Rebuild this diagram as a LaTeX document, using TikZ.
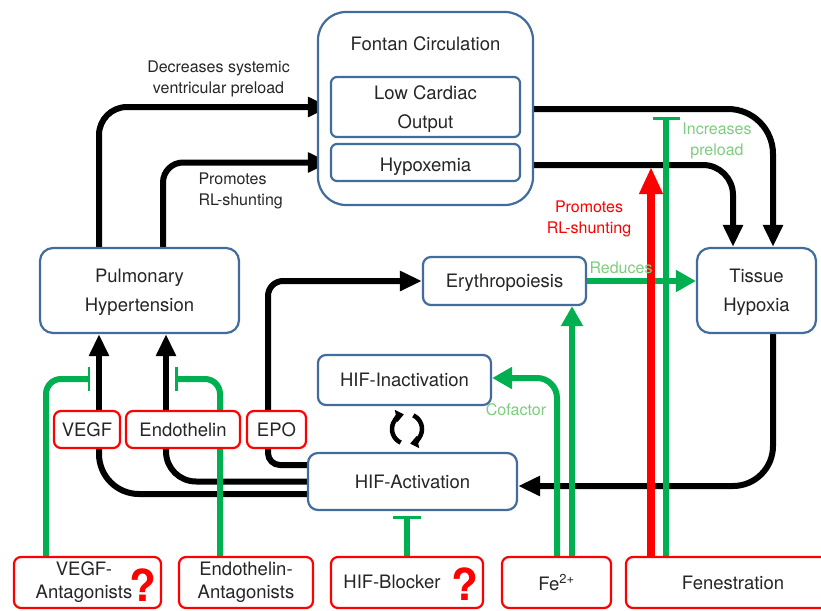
\documentclass[tikz,border=0pt]{standalone}
\usepackage{fontspec}
\setmainfont{TeX Gyre Heros}
\usetikzlibrary{arrows.meta,backgrounds,positioning}
\definecolor{boxblue}{RGB}{65,108,156}
\definecolor{txt}{RGB}{38,38,38}
\definecolor{fgreen}{RGB}{0,176,80}
\definecolor{lgreen}{RGB}{125,205,125}
\definecolor{fred}{RGB}{255,0,0}

\begin{document}
\begin{tikzpicture}[x=1pt, y=-1pt, text=txt, font=\fontsize{18.5}{29}\selectfont,
  box/.style={draw=boxblue, line width=2.2pt, fill=white, rounded corners=#1, align=center, text depth=0pt},
  box/.default=8pt,
  drug/.style={draw=fred, line width=2.2pt, fill=white, rounded corners=7pt, align=center,
    font=\fontsize{18.5}{23}\selectfont},
  note/.style={font=\fontsize{16}{20.5}\selectfont, align=center},
  qmark/.style={text=fred, font=\fontsize{44}{44}\selectfont\bfseries, inner sep=0pt},
  wire/.style={draw=black, line width=6pt, rounded corners=#1},
  wire/.default=25pt,
  blk/.style={wire=#1, -{Triangle[length=22pt,width=19pt]}},
  blk/.default=25pt,
  grn/.style={draw=fgreen, line width=6pt, rounded corners=#1, -{Triangle[length=20pt,width=21pt]}},
  grn/.default=20pt,
  inhib/.style={draw=fgreen, line width=6pt, rounded corners=15pt, -{Bar[width=#1,line width=2.5pt]}},
  inhib/.default=26pt,
  pro/.style={draw=fred, line width=8pt, -{Triangle[length=27pt,width=22pt]}},
  turn/.style={line width=4.5pt, -{Triangle[length=8pt,width=12pt]}},
]
\useasboundingbox (0,0) rectangle (821,610);

\node[box=28pt, minimum width=215, minimum height=193] (fontan) at (425.5,108.5) {};
\node (fontantext) at (425.5,44) {Fontan Circulation};
\node[box=6pt, minimum width=189, minimum height=60] (lco) at (425.5,107) {Low Cardiac\\Output};
\node[box=6pt, minimum width=189, minimum height=37, text height=17pt] (hypox) at (425.5,162.5) {Hypoxemia};
\node[box=13pt, minimum width=199, minimum height=85] (pulm) at (139.5,290.5) {Pulmonary\\Hypertension};
\node[box, minimum width=163, minimum height=48] (eryth) at (504.5,281) {Erythropoiesis};
\node[box=13pt, minimum width=119, minimum height=85] (tissue) at (756.5,290.5) {Tissue\\Hypoxia};
\node[box, minimum width=173, minimum height=50] (hifin) at (404.5,380) {HIF-Inactivation};
\node[box=10pt, minimum width=209, minimum height=57] (hifact) at (412.5,481.5) {HIF-Activation};

\node[drug, minimum width=66, minimum height=37] (vegf) at (87,429.5) {VEGF};
\node[drug, minimum width=114, minimum height=37] (endo) at (183,429.5) {Endothelin};
\node[drug, minimum width=59, minimum height=37] (epo) at (276.5,429.5) {EPO};

\node[drug, minimum width=147, minimum height=51] (vegfant) at (87.5,582.5) {};
\node[align=center, font=\fontsize{18.5}{23}\selectfont] (vegfanttext) at (84,582.5) {VEGF-\\Antagonists};
\node[qmark] (vegfq) at (143,585) {?};
\node[drug, minimum width=134, minimum height=51] (endoant) at (246,582.5) {Endothelin-\\Antagonists};
\node[drug, minimum width=152, minimum height=51] (hifblock) at (407,582.5) {};
\node (hifblocktext) at (392,582) {HIF-Blocker};
\node[qmark] (hifq) at (465,584) {?};
\node[drug, minimum width=109, minimum height=51] (fe) at (556.5,582.5) {Fe\textsuperscript{2+}};
\node[drug, minimum width=214, minimum height=51] (fen) at (733,582.5) {Fenestration};

\coordinate (cyc) at (407,429);
\draw[turn] ([shift={(115:15)}]cyc) arc (115:258:15);
\draw[turn] ([shift={(-65:15)}]cyc) arc (-65:78:15);

\node[note] (preloadtext) at (218.5,79) {Decreases systemic\\ventricular preload};
\node[note, align=left, anchor=west] (shunttext) at (195,191) {Promotes\\RL-shunting};
\node[note, text=fred] (fenshunttext) at (589,219) {Promotes\\RL-shunting};
\node[note, text=lgreen] (increasetext) at (717,141) {Increases\\preload};
\node[note, text=lgreen] (cofactortext) at (516,410) {Cofactor};
\node[note, text=lgreen] (reducetext) at (621,268) {Reduces};

\coordinate (vegfcut) at (90,379);
\coordinate (endocut) at (175,379);
\coordinate (hypoxcut) at (651,167);
\coordinate (lcocut) at (666,117);

\begin{scope}[on background layer]
\draw[blk=28pt] ([xshift=-40.5]pulm.north) |- (lco.west);
\draw[blk=20pt] ([xshift=23.5]pulm.north) |- (hypox.west);
\draw[blk=45pt] ([yshift=-2]lco.east) -| ([xshift=16.5]tissue.north);
\draw[blk=30pt] ([yshift=-2.5]hypox.east) -| ([xshift=-23.5]tissue.north);
\draw[blk=40pt] ([xshift=16.5]tissue.south) |- ([yshift=-4.5]hifact.east);
\draw[wire=40pt] ([yshift=-12.5]hifact.west) -| ([xshift=12]vegf.south);
\draw[wire=30pt] (hifact.west) -| ([xshift=-17]endo.south);
\draw[wire=12pt] ([yshift=16.5]hifact.west) -| ([xshift=-8.5]epo.south);
\draw[blk] ([xshift=12]vegf.north) -- ([xshift=12]vegf.north |- pulm.south);
\draw[blk] ([xshift=-17]endo.north) -- ([xshift=-17]endo.north |- pulm.south);
\draw[blk=15pt] ([xshift=-8.5]epo.north) |- (eryth.west);

\draw[inhib=24pt] ([xshift=-41.5]vegfant.north) |- (vegfcut);
\draw[inhib=24pt] ([xshift=-26]endoant.north) |- (endocut);
\draw[inhib=28pt, shorten >=5pt] (hifblock.north) -- (hifblock.north |- hifact.south);
\draw[grn] ([xshift=0.5]fe.north) |- ([yshift=2]hifin.east);
\draw[grn] ([xshift=15.5]fe.north) -- ([xshift=15.5]fe.north |- eryth.south);
\draw[grn] (eryth.east) -- (eryth.east -| tissue.west);
\draw[inhib=27pt] ([xshift=-67]fen.north) -- (lcocut);
\draw[pro] ([xshift=-82]fen.north) -- (hypoxcut);
\end{scope}

\end{tikzpicture}
\end{document}
